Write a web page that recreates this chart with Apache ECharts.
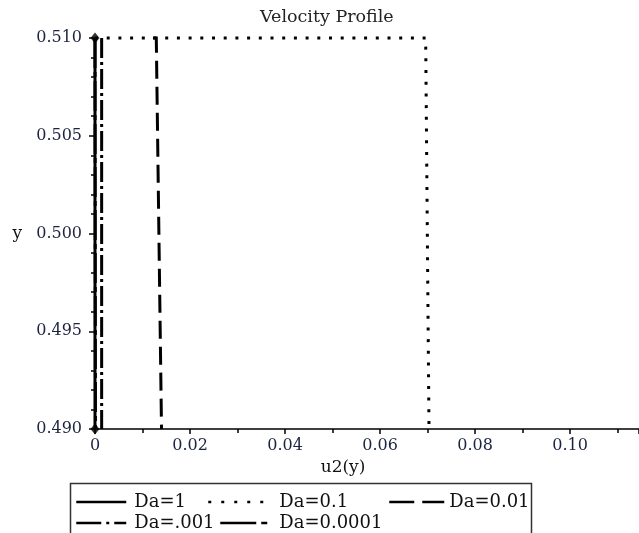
<!DOCTYPE html>
<html>
<head>
<meta charset="utf-8">
<script src="https://cdn.jsdelivr.net/npm/echarts@6/dist/echarts.min.js"></script>
<style>
  html, body { margin: 0; padding: 0; background: #fff; }
  #chart { width: 639px; height: 533px; }
</style>
</head>
<body>
<div id="chart"></div>
<script>
// Velocity profile u2(y) across the channel for several Darcy numbers
const yLevels  = [0.510, 0.510, 0.490];
const uDa1     = [0, 0, 0];
const uDa01    = [0, 0.0696, 0.0703];
const uDa001   = [0.0122, 0.0129, 0.0140];
const uDa0001  = [0.0014, 0.0014, 0.0014];
const uDa00001 = [0, 0.0001, 0.0001];
const seriesNames = ['Da=1', 'Da=0.1', 'Da=0.01', 'Da=.001', 'Da=0.0001'];

// boundary points of the profile
const wallU = [0, 0];
const wallY = [0.510, 0.490];

// axis ranges / tick spacing
const xMin = 0, xMax = 0.1145, xStep = 0.02;
const yMin = 0.490, yMax = 0.510, yStep = 0.005;

const serif = 'DejaVu Serif';
const ink = '#111';
const tickInk = '#1c2440';

function pairs(us, ys) { return us.map((u, i) => [u, ys[i]]); }

const profiles = [uDa1, uDa01, uDa001, uDa0001, uDa00001];
const dashes = ['solid', [3, 8.7], [18, 8], [20, 4, 3, 4], [30, 4, 5, 4]];
const keyDashes = ['solid', [3, 10], [25, 8], [25, 5, 3, 5], [36, 5, 6, 10]];

const lineSeries = profiles.map((us, i) => ({
  name: seriesNames[i],
  type: 'line',
  data: pairs(us, yLevels),
  symbol: 'none',
  clip: false,
  z: 3,
  itemStyle: { color: '#000' },
  lineStyle: { color: '#000', width: 3, type: dashes[i], cap: 'butt', join: 'miter' }
}));

// legend entries, each placed in its own slot of the boxed key
const legendSlots = [
  { left: 75,  top: 493, w: 50, gap: 3 },
  { left: 207, top: 493, w: 58, gap: 8 },
  { left: 388, top: 493, w: 55, gap: 0 },
  { left: 75,  top: 514, w: 50, gap: 3 },
  { left: 219, top: 514, w: 51, gap: 3 }
];
const legends = legendSlots.map((s, i) => ({
  data: [seriesNames[i]],
  left: s.left, top: s.top,
  padding: 0,
  itemWidth: s.w, itemHeight: 14,
  selectedMode: false,
  itemStyle: { opacity: 0, borderWidth: 0 },
  lineStyle: { width: 2.5, color: '#000', opacity: 1, type: keyDashes[i], cap: 'butt' },
  textStyle: { fontFamily: serif, fontSize: 18, color: ink, padding: [0, 0, 0, s.gap] }
}));

const chart = echarts.init(document.getElementById('chart'), null, { renderer: 'canvas' });
chart.setOption({
  animation: false,
  backgroundColor: '#fff',
  title: {
    text: 'Velocity Profile',
    left: 260, top: 8, padding: 0,
    textStyle: { fontFamily: serif, fontSize: 17.5, fontWeight: 'normal', color: '#222' }
  },
  legend: legends,
  grid: { left: 95, right: 0, top: 38, bottom: 104, containLabel: false },
  xAxis: {
    type: 'value',
    min: xMin, max: xMax, interval: xStep,
    name: 'u2(y)',
    nameLocation: 'middle',
    nameGap: 30,
    nameTextStyle: { fontFamily: serif, fontSize: 17, color: ink, padding: [0, 48, 0, 0] },
    axisLine: { show: true, onZero: false, lineStyle: { color: '#000', width: 1.5 } },
    axisTick: { show: true, inside: false, length: 5, lineStyle: { color: '#000', width: 1.5 } },
    minorTick: { show: true, splitNumber: 2, length: 4, lineStyle: { color: '#000', width: 1.5 } },
    splitLine: { show: false },
    axisLabel: {
      fontFamily: serif, fontSize: 16, color: tickInk, margin: 9,
      showMaxLabel: false,
      formatter: v => (v === 0 ? '0' : v.toFixed(2))
    }
  },
  yAxis: {
    type: 'value',
    min: yMin, max: yMax, interval: yStep,
    name: 'y',
    nameLocation: 'middle',
    nameRotate: 0,
    nameGap: 73,
    nameTextStyle: { fontFamily: serif, fontSize: 17, color: ink },
    axisLine: { show: true, onZero: false, lineStyle: { color: '#000', width: 1.5 } },
    axisTick: { show: true, inside: false, length: 6, lineStyle: { color: '#000', width: 1.5 } },
    minorTick: { show: true, splitNumber: 5, length: 4, lineStyle: { color: '#000', width: 1.5 } },
    splitLine: { show: false },
    axisLabel: {
      fontFamily: serif, fontSize: 16, color: tickInk, margin: 13,
      formatter: v => v.toFixed(3)
    }
  },
  graphic: [{
    type: 'rect',
    shape: { x: 70.5, y: 483.5, width: 461, height: 60 },
    style: { fill: 'none', stroke: '#333', lineWidth: 1.5 },
    silent: true
  }],
  series: lineSeries.concat([{
    name: 'walls',
    type: 'scatter',
    data: pairs(wallU, wallY),
    symbol: 'diamond',
    symbolSize: [9, 11],
    clip: false,
    z: 4,
    itemStyle: { color: '#000' }
  }])
});
</script>
</body>
</html>
